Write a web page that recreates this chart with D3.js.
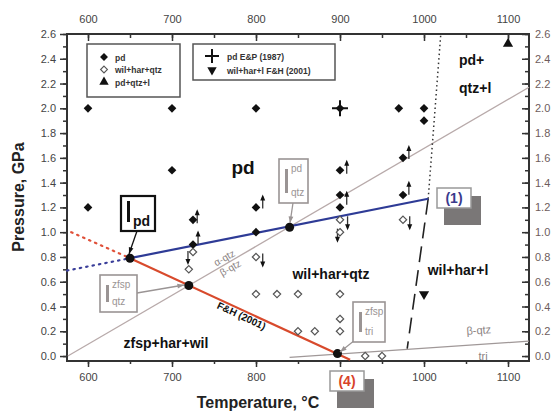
<!DOCTYPE html>
<html>
<head>
<meta charset="utf-8">
<script src="https://cdn.jsdelivr.net/npm/d3@7"></script>
<style>
  body { margin: 0; background: #fff; }
  text { font-family: "Liberation Sans", Arial, sans-serif; }
  .axis path { display: none; }
  .axis line { stroke: #333; stroke-width: 1.5; }
  .axis text { font-size: 11px; fill: #444; }
</style>
</head>
<body>
<div id="chart"></div>
<script>
// experimental points, T in degC, P in GPa
var pdPoints = [[600,2.0],[700,2.0],[800,2.0],[900,2.0],[970,2.0],[1000,2.0],[1000,1.9],
                [700,1.5],[900,1.5],[975,1.6],[600,1.2],[800,1.2],[900,1.3],[900,1.2],
                [975,1.3],[725,1.1],[725,0.9],[800,1.0]];
var wilPoints = [[720,0.7],[725,0.84],[800,0.8],[800,0.5],[825,0.5],[850,0.5],[900,0.5],
                 [900,0.3],[850,0.2],[870,0.2],[900,0.2],[930,0.0],[950,0.0],
                 [900,1.1],[900,1.0],[975,1.1]];
var meltPoints = [[1100,2.52]];
var epPoints = [[900,2.0]];
var fhPoints = [[1000,0.5]];
var upArrows = [[730,1.12],[731,0.95],[808,1.24],[908,1.52],[908,1.27],[982,1.64],[982,1.35]];
var downArrows = [[719,0.8],[808,0.78],[909,1.08],[897,0.98],[983,1.08]];
var invariantPoints = [[650,0.79],[720,0.57],[840,1.04],[897,0.02]];

// reaction curves
var blueLine = [[650,0.79],[1005,1.27]];
var blueDotted = [[575,0.69],[650,0.79]];
var redLine = [[650,0.79],[912,-0.03]];
var redDotted = [[580,1.0],[650,0.79]];
var qtzLine = [[576,0.0],[1125,2.17]];
var triLine = [[840,-0.01],[1125,0.12]];
var meltDotted = [[1005,1.27],[1020,2.6]];
var meltDashed = [[1005,1.27],[980,0.06]];

var xTicks = [600,700,800,900,1000,1100];
var yTicks = [0,0.2,0.4,0.6,0.8,1.0,1.2,1.4,1.6,1.8,2.0,2.2,2.4,2.6];

var width = 555, height = 414;
var svg = d3.select("#chart").append("svg")
    .attr("width", width)
    .attr("height", height);

var x = d3.scaleLinear().domain([575, 1125]).range([67, 529]);
var y = d3.scaleLinear().domain([-0.04, 2.6]).range([361, 34]);

var minorX = d3.range(600, 1125, 50);
var minorY = d3.range(0, 2.61, 0.1);

// axes (the 900 label at the bottom sits under the (4) box)
svg.append("g").attr("class", "axis").attr("transform", "translate(0,361)")
    .call(d3.axisBottom(x).tickValues(minorX).tickFormat("").tickSize(3).tickSizeOuter(0));
svg.append("g").attr("class", "axis").attr("transform", "translate(0,361)")
    .call(d3.axisBottom(x).tickValues(xTicks).tickSize(6).tickPadding(6).tickSizeOuter(0)
        .tickFormat(d => d == 900 ? "" : d));
svg.append("g").attr("class", "axis").attr("transform", "translate(0,34)")
    .call(d3.axisTop(x).tickValues(minorX).tickFormat("").tickSize(-4).tickSizeOuter(0));
svg.append("g").attr("class", "axis").attr("transform", "translate(0,34)")
    .call(d3.axisTop(x).tickValues(xTicks).tickSize(-7).tickPadding(11).tickFormat(d3.format("d")).tickSizeOuter(0));
svg.append("g").attr("class", "axis").attr("transform", "translate(67,0)")
    .call(d3.axisLeft(y).tickValues(minorY).tickFormat("").tickSize(4).tickSizeOuter(0));
svg.append("g").attr("class", "axis").attr("transform", "translate(67,0)")
    .call(d3.axisLeft(y).tickValues(yTicks).tickSize(7).tickPadding(4).tickFormat(d3.format(".1f")).tickSizeOuter(0));
svg.append("g").attr("class", "axis").attr("transform", "translate(529,0)")
    .call(d3.axisRight(y).tickValues(minorY).tickFormat("").tickSize(-4).tickSizeOuter(0));
svg.append("g").attr("class", "axis right").attr("transform", "translate(529,0)")
    .call(d3.axisRight(y).tickValues(yTicks).tickSize(-7).tickPadding(6).tickFormat(d3.format(".1f")).tickSizeOuter(0));
svg.selectAll(".right text").style("fill", "#6e5c5c");

svg.append("rect")
    .attr("x", 67).attr("y", 34).attr("width", 462).attr("height", 327)
    .attr("fill", "none").attr("stroke", "#333").attr("stroke-width", 2);

// axis titles
svg.append("text")
    .attr("transform", "translate(24,197)rotate(-90)")
    .attr("text-anchor", "middle")
    .style("font-size", "16px").style("font-weight", "bold").style("fill", "#222")
    .text("Pressure, GPa");
svg.append("text")
    .attr("x", 258).attr("y", 408)
    .attr("text-anchor", "middle")
    .style("font-size", "16px").style("font-weight", "bold").style("fill", "#222")
    .text("Temperature, °C");

var line = d3.line().x(d => x(d[0])).y(d => y(d[1]));
var plot = svg.append("g");

function drawLine(data, color, w, dash) {
  plot.append("path")
      .attr("d", line(data))
      .attr("fill", "none")
      .attr("stroke", color)
      .attr("stroke-width", w)
      .attr("stroke-dasharray", dash || null)
      .attr("stroke-linecap", dash == "1.5,5" ? "round" : null);
}

drawLine(qtzLine, "#b8aaaa", 1.3);
drawLine(triLine, "#a09898", 1.3);
drawLine(meltDotted, "#333", 1.5, "1.5,3");
drawLine(meltDashed, "#222", 1.6, "16,8");
drawLine(blueDotted, "#3b3f9a", 2.2, "1.5,5");
drawLine(redDotted, "#e0513a", 2.2, "1.5,5");
drawLine(blueLine, "#2e3b96", 2.2);
drawLine(redLine, "#d84a2c", 2.2);

// arrows next to points
function drawArrow(d, dir) {
  var cx = x(d[0]), cy = y(d[1]);
  var g = plot.append("g");
  g.append("line")
      .attr("x1", cx).attr("x2", cx)
      .attr("y1", cy - 6 * dir).attr("y2", cy + 6 * dir)
      .attr("stroke", "#333").attr("stroke-width", 1.3);
  g.append("path")
      .attr("d", "M" + (cx - 2.5) + "," + (cy - 2 * dir) + "L" + cx + "," + (cy - 8 * dir) + "L" + (cx + 2.5) + "," + (cy - 2 * dir) + "Z")
      .attr("fill", "#111");
}
upArrows.forEach(d => drawArrow(d, 1));
downArrows.forEach(d => drawArrow(d, -1));

var diamond = d3.symbol().type(d3.symbolDiamond2).size(48);
plot.selectAll(".pd").data(pdPoints).enter().append("path")
    .attr("transform", d => "translate(" + x(d[0]) + "," + y(d[1]) + ")")
    .attr("d", diamond).attr("fill", "#111");
plot.selectAll(".wil").data(wilPoints).enter().append("path")
    .attr("transform", d => "translate(" + x(d[0]) + "," + y(d[1]) + ")")
    .attr("d", d3.symbol().type(d3.symbolDiamond2).size(34))
    .attr("fill", "#fff").attr("stroke", "#555").attr("stroke-width", 1.2);
plot.selectAll(".melt").data(meltPoints).enter().append("path")
    .attr("transform", d => "translate(" + x(d[0]) + "," + y(d[1]) + ")")
    .attr("d", d3.symbol().type(d3.symbolTriangle).size(45)).attr("fill", "#111");
plot.selectAll(".ep").data(epPoints).enter().append("path")
    .attr("transform", d => "translate(" + x(d[0]) + "," + y(d[1]) + ")")
    .attr("d", "M-8,0H8M0,-8V8").attr("stroke", "#111").attr("stroke-width", 2);
plot.selectAll(".fh").data(fhPoints).enter().append("path")
    .attr("transform", d => "translate(" + x(d[0]) + "," + y(d[1]) + ")rotate(180)")
    .attr("d", d3.symbol().type(d3.symbolTriangle).size(45)).attr("fill", "#111");
plot.selectAll(".inv").data(invariantPoints).enter().append("circle")
    .attr("cx", d => x(d[0])).attr("cy", d => y(d[1]))
    .attr("r", 4.5).attr("fill", "#111");

// field labels
function label(txt, px, py, size, opts) {
  opts = opts || {};
  return svg.append("text")
      .attr("transform", "translate(" + px + "," + py + ")" + (opts.rot ? "rotate(" + opts.rot + ")" : ""))
      .attr("text-anchor", opts.anchor || "middle")
      .style("font-size", size + "px")
      .style("font-weight", opts.weight || "bold")
      .style("font-style", opts.style || null)
      .style("fill", opts.fill || "#111")
      .text(txt);
}
label("pd", 243, 174, 19);
label("wil+har+qtz", 331, 279, 14);
label("wil+har+l", 458, 275, 14);
label("zfsp+har+wil", 166, 348, 14);
label("pd+", 459, 65, 14, {anchor: "start"});
label("qtz+l", 459, 93, 14, {anchor: "start"});
label("F&H (2001)", 240, 319, 10, {rot: 25});
label("α-qtz", 226, 261, 10, {rot: -30, weight: "normal", fill: "#8a8282"});
label("β-qtz", 232, 271, 10, {rot: -30, weight: "normal", fill: "#8a8282"});
label("β-qtz", 479, 334, 11, {rot: -4, weight: "normal", fill: "#8a8282"});
label("tri", 483, 360, 11, {weight: "normal", fill: "#8a8282"});

// invariant point boxes
function ibox(bx, by, bw, bh, color, sub, sup, tx, ty, tw) {
  var g = svg.append("g");
  g.append("line")
      .attr("x1", tx[0]).attr("y1", tx[1]).attr("x2", ty[0]).attr("y2", ty[1])
      .attr("stroke", color).attr("stroke-width", 1.3);
  var ang = Math.atan2(ty[1] - tx[1], ty[0] - tx[0]);
  var hx = ty[0], hy = ty[1];
  g.append("path")
      .attr("d", "M" + hx + "," + hy +
          "L" + (hx - 7 * Math.cos(ang - 0.35)) + "," + (hy - 7 * Math.sin(ang - 0.35)) +
          "L" + (hx - 7 * Math.cos(ang + 0.35)) + "," + (hy - 7 * Math.sin(ang + 0.35)) + "Z")
      .attr("fill", color);
  g.append("rect").attr("x", bx).attr("y", by).attr("width", bw).attr("height", bh)
      .attr("fill", "#fff").attr("stroke", color).attr("stroke-width", tw);
  g.append("rect").attr("x", bx + 6).attr("y", by + (sup ? 10 : 5)).attr("width", 3)
      .attr("height", sup ? bh - 20 : bh - 14).attr("fill", color);
  if (sup) {
    g.append("text").attr("x", bx + 12).attr("y", by + 13)
        .style("font-size", "10px").style("fill", color).text(sup);
  }
  g.append("text").attr("x", bx + 12).attr("y", by + bh - (sup ? 7 : 5))
      .style("font-size", sup ? "10px" : "14px").style("font-weight", sup ? "normal" : "bold")
      .style("fill", color).text(sub);
}
ibox(121, 196, 34, 35, "#111", "pd", null, [137, 231], [129, 254], 2.2);
ibox(279, 159, 29, 44, "#9a9494", "qtz", "pd", [293, 203], [290, 223], 1.6);
ibox(100, 275, 37, 37, "#9a9494", "qtz", "zfsp", [137, 293], [184, 285], 1.6);
ibox(353, 302, 32, 40, "#9a9494", "tri", "zfsp", [355, 340], [340, 352], 1.6);

// numbered reaction boxes
function numbox(bx, by, txt, color) {
  svg.append("rect").attr("x", bx + 7).attr("y", by + 8).attr("width", 37).attr("height", 29).attr("fill", "#7a7777");
  svg.append("rect").attr("x", bx).attr("y", by).attr("width", 34).attr("height", 20)
      .attr("fill", "#fff").attr("stroke", "#999").attr("stroke-width", 1.5);
  svg.append("text").attr("x", bx + 17).attr("y", by + 15).attr("text-anchor", "middle")
      .style("font-size", "14px").style("font-weight", "bold").style("fill", color).text(txt);
}
numbox(437, 188, "(1)", "#3a3a8c");
numbox(330, 371, "(4)", "#d8432a");

// legends
var leg1 = svg.append("g");
leg1.append("rect").attr("x", 87).attr("y", 44).attr("width", 93).attr("height", 53)
    .attr("fill", "#fff").attr("stroke", "#555").attr("stroke-width", 1.5);
var leg1Items = ["pd", "wil+har+qtz", "pd+qtz+l"];
leg1Items.forEach(function(t, i) {
  var ly = 57 + i * 12.5;
  var sym = leg1.append("path").attr("transform", "translate(104," + ly + ")");
  if (i == 0) sym.attr("d", d3.symbol().type(d3.symbolDiamond2).size(40)).attr("fill", "#111");
  if (i == 1) sym.attr("d", d3.symbol().type(d3.symbolDiamond2).size(30)).attr("fill", "#fff").attr("stroke", "#555").attr("stroke-width", 1.1);
  if (i == 2) sym.attr("d", d3.symbol().type(d3.symbolTriangle).size(38)).attr("fill", "#111");
  leg1.append("text").attr("x", 115).attr("y", ly + 3.5)
      .style("font-size", "8.5px").style("font-weight", "bold").style("fill", "#333").text(t);
});
var leg2 = svg.append("g");
leg2.append("rect").attr("x", 193).attr("y", 44).attr("width", 142).attr("height", 36)
    .attr("fill", "#fff").attr("stroke", "#555").attr("stroke-width", 1.5);
var leg2Items = ["pd E&P (1987)", "wil+har+l F&H (2001)"];
leg2Items.forEach(function(t, i) {
  var ly = 56 + i * 14;
  var sym = leg2.append("path").attr("transform", "translate(212," + ly + ")" + (i == 1 ? "rotate(180)" : ""));
  if (i == 0) sym.attr("d", "M-7,0H7M0,-7V7").attr("stroke", "#111").attr("stroke-width", 2);
  if (i == 1) sym.attr("d", d3.symbol().type(d3.symbolTriangle).size(38)).attr("fill", "#111");
  leg2.append("text").attr("x", 227).attr("y", ly + 3.5)
      .style("font-size", "8.5px").style("font-weight", "bold").style("fill", "#333").text(t);
});
</script>
</body>
</html>
